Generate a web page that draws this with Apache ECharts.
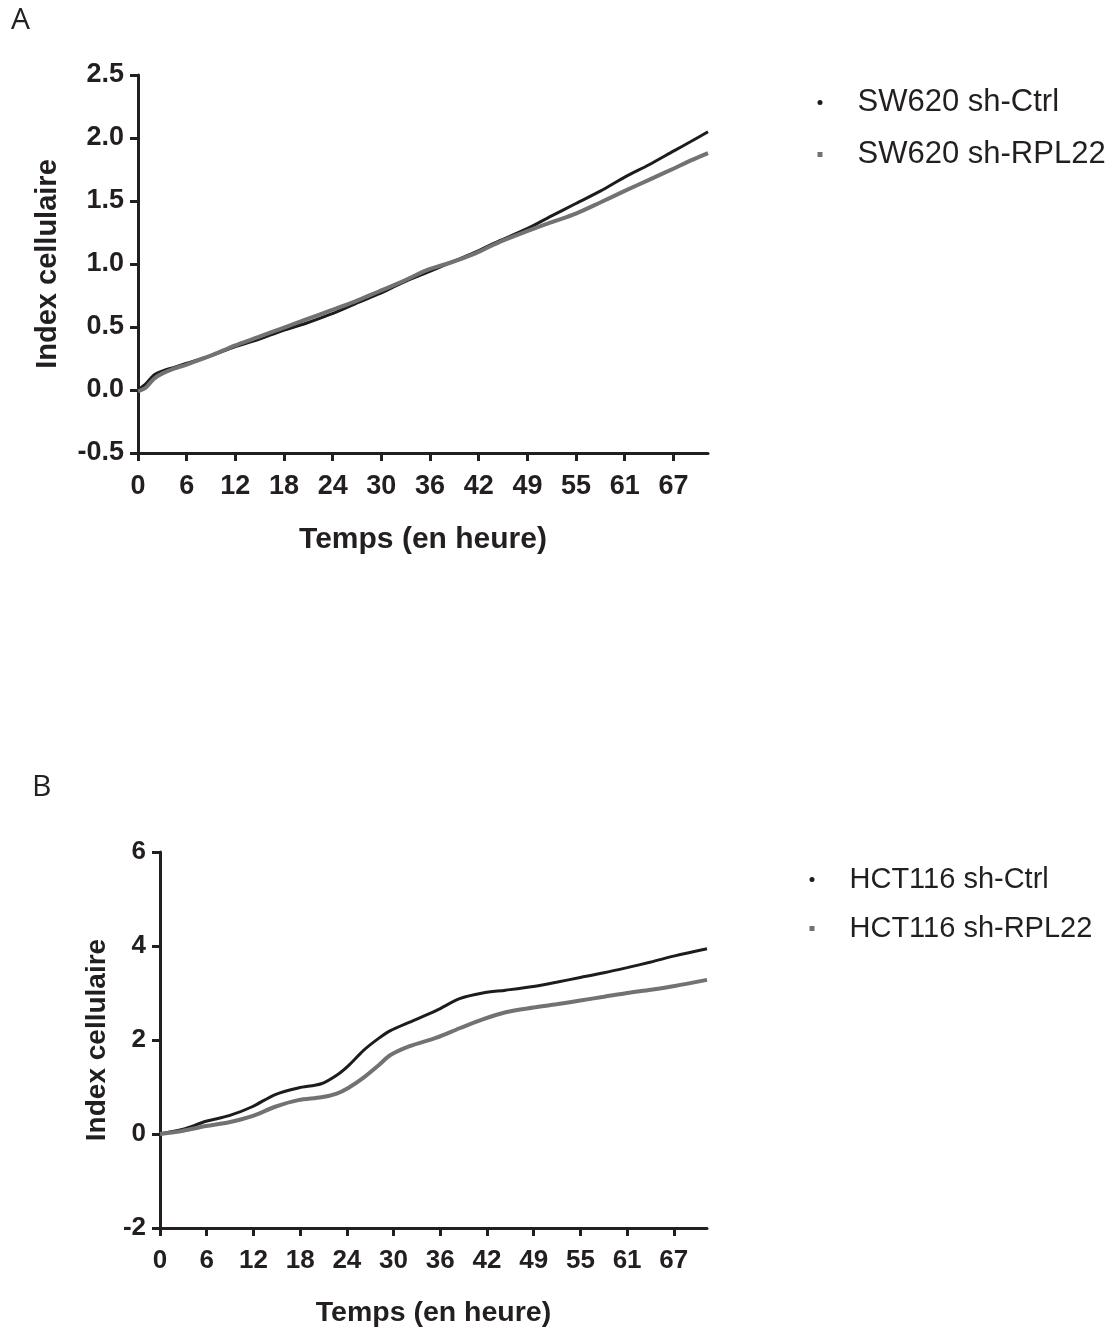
<!DOCTYPE html>
<html>
<head>
<meta charset="utf-8">
<script src="https://cdn.jsdelivr.net/npm/echarts@6/dist/echarts.min.js"></script>
<style>
html,body{margin:0;padding:0;background:#fff;}
#chart{width:1114px;height:1333px;}
</style>
</head>
<body>
<div id="chart"></div>
<script>
// Tick labels (hours) shown on the time axis
const xTickLabels = ['0','6','12','18','24','30','36','42','49','55','61','67'];
const xTickStep = 6.08;   // hours between labelled ticks
const xMax = 71.2;

// Panel A : SW620
const seriesNamesA = ['SW620 sh-Ctrl', 'SW620 sh-RPL22'];
const timesA = [0, 1, 2, 3, 4.5, 6, 9, 12, 15, 18, 21, 24, 27, 30, 33, 36, 39, 42, 45, 48.6, 51.6, 54.7, 57.8, 60.8, 63.9, 67, 69, 71.2];
const ctrlA  = [0, 0.05, 0.12, 0.15, 0.18, 0.21, 0.27, 0.34, 0.40, 0.47, 0.53, 0.60, 0.68, 0.76, 0.85, 0.93, 1.01, 1.09, 1.18, 1.28, 1.38, 1.48, 1.58, 1.69, 1.79, 1.90, 1.97, 2.05];
const rplA   = [-0.01, 0.02, 0.09, 0.13, 0.17, 0.20, 0.27, 0.35, 0.42, 0.49, 0.56, 0.63, 0.70, 0.78, 0.86, 0.95, 1.01, 1.08, 1.17, 1.26, 1.33, 1.40, 1.49, 1.58, 1.67, 1.76, 1.82, 1.88];

// Panel B : HCT116
const seriesNamesB = ['HCT116 sh-Ctrl', 'HCT116 sh-RPL22'];
const timesB = [0, 3, 6, 9, 12, 15, 18, 21, 23, 24.5, 26.5, 28.5, 30, 32.5, 36, 39, 42, 45, 48.6, 51.6, 54.7, 57.8, 60.8, 63.9, 67, 71.2];
const ctrlB  = [0, 0.10, 0.27, 0.39, 0.58, 0.84, 0.98, 1.07, 1.25, 1.45, 1.78, 2.04, 2.20, 2.38, 2.63, 2.88, 3.00, 3.06, 3.14, 3.23, 3.33, 3.43, 3.54, 3.66, 3.79, 3.94];
const rplB   = [0, 0.07, 0.17, 0.25, 0.38, 0.58, 0.72, 0.78, 0.86, 0.98, 1.20, 1.47, 1.68, 1.87, 2.05, 2.25, 2.44, 2.59, 2.69, 2.76, 2.84, 2.92, 3.00, 3.07, 3.15, 3.28];

const axisTitleX = 'Temps (en heure)';
const axisTitleY = 'Index cellulaire';

const zip = (xs, ys) => xs.map((x, i) => [x, ys[i]]);
const tickPositions = xTickLabels.map((_, i) => +(i * xTickStep).toFixed(3));

const AX = '#231f20';
const BLACK = '#1c1c1c';
const GRAY = '#727272';
const TICKFONT = 'Liberation Sans, Arial, sans-serif';

function xAxisCfg(gridIndex, fs, nameFs, nameGap) {
  return {
    type: 'value', gridIndex, min: 0, max: xMax,
    name: axisTitleX, nameLocation: 'middle', nameGap,
    nameTextStyle: {fontFamily: TICKFONT, fontWeight: 'bold', fontSize: nameFs, color: AX},
    axisLine: {show: true, onZero: false, lineStyle: {color: AX, width: 3}},
    axisTick: {show: true, length: 8, lineStyle: {color: AX, width: 3}, customValues: tickPositions},
    axisLabel: {
      show: true, margin: 20, fontFamily: TICKFONT, fontWeight: 'bold', fontSize: fs, color: AX,
      customValues: tickPositions,
      formatter: v => xTickLabels[Math.round(v / xTickStep)] ?? ''
    },
    splitLine: {show: false}
  };
}
function yAxisCfg(gridIndex, min, max, interval, dec, fs, nameFs, nameGap) {
  return {
    type: 'value', gridIndex, min, max, interval,
    name: axisTitleY, nameLocation: 'middle', nameGap,
    nameTextStyle: {fontFamily: TICKFONT, fontWeight: 'bold', fontSize: nameFs, color: AX},
    axisLine: {show: true, lineStyle: {color: AX, width: 3}},
    axisTick: {show: true, length: 8, lineStyle: {color: AX, width: 3}},
    axisLabel: {margin: 14, fontFamily: TICKFONT, fontWeight: 'bold', fontSize: fs, color: AX,
      formatter: v => v.toFixed(dec)},
    splitLine: {show: false}
  };
}
function lineSeries(name, xi, data, color, width) {
  return {
    name, type: 'line', xAxisIndex: xi, yAxisIndex: xi, data,
    smooth: 0.3, showSymbol: false, symbol: 'none',
    lineStyle: {color, width}, itemStyle: {color}
  };
}

const chart = echarts.init(document.getElementById('chart'), null, {renderer: 'canvas'});
chart.setOption({
  animation: false,
  backgroundColor: '#fff',
  grid: [
    {left: 138, top: 75, width: 570, height: 378},
    {left: 160, top: 852, width: 547, height: 376}
  ],
  xAxis: [xAxisCfg(0, 27, 30, 72), xAxisCfg(1, 26, 28.5, 71)],
  yAxis: [yAxisCfg(0, -0.5, 2.5, 0.5, 1, 27, 29, 76), yAxisCfg(1, -2, 6, 2, 0, 26, 28, 49)],
  legend: [
    {
      orient: 'vertical', left: 812.5, top: 82, itemWidth: 5, itemHeight: 5, itemGap: 21,
      data: [{name: seriesNamesA[0], icon: 'circle'}, {name: seriesNamesA[1], icon: 'rect'}],
      textStyle: {fontFamily: TICKFONT, fontSize: 31, color: AX, lineHeight: 31, padding: [0, 0, 0, 30]},
      selectedMode: false
    },
    {
      orient: 'vertical', left: 804.5, top: 859, itemWidth: 5, itemHeight: 5, itemGap: 18,
      data: [{name: seriesNamesB[0], icon: 'circle'}, {name: seriesNamesB[1], icon: 'rect'}],
      textStyle: {fontFamily: TICKFONT, fontSize: 29, color: AX, lineHeight: 31, padding: [0, 0, 0, 30]},
      selectedMode: false
    }
  ],
  graphic: [
    {type: 'text', left: 11, top: 5, style: {text: 'A', fontFamily: 'Open Sans, sans-serif', fontSize: 30, fill: '#222'}},
    {type: 'text', left: 32, top: 772, style: {text: 'B', fontFamily: 'Open Sans, sans-serif', fontSize: 30, fill: '#222'}}
  ],
  series: [
    lineSeries(seriesNamesA[0], 0, zip(timesA, ctrlA), BLACK, 3),
    lineSeries(seriesNamesA[1], 0, zip(timesA, rplA), GRAY, 4),
    lineSeries(seriesNamesB[0], 1, zip(timesB, ctrlB), BLACK, 3),
    lineSeries(seriesNamesB[1], 1, zip(timesB, rplB), GRAY, 4)
  ]
});
</script>
</body>
</html>
